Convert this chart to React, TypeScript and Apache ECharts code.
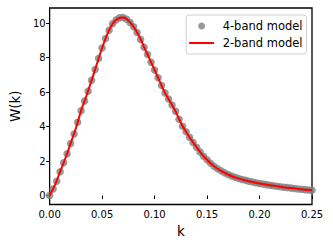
import React, { useEffect, useRef } from "react";
import * as echarts from "echarts";

// 4-band model: dots at k = i * 0.25/75
const dotStep = 0.25 / 75;
const dotW = [
  0, 0.38, 0.83, 1.38, 1.9, 2.42, 3.02, 3.57, 4.25, 4.92,
  5.48, 6.05, 6.68, 7.3, 7.95, 8.55, 9.1, 9.58, 9.95, 10.18,
  10.3, 10.32, 10.22, 10.03, 9.78, 9.45, 9.05, 8.6, 8.17, 7.73,
  7.28, 6.83, 6.38, 5.95, 5.6, 5.25, 4.88, 4.42, 4.02, 3.7,
  3.38, 3.08, 2.8, 2.53, 2.28, 2.07, 1.87, 1.7, 1.55, 1.43,
  1.32, 1.22, 1.13, 1.06, 0.99, 0.93, 0.88, 0.83, 0.78, 0.74,
  0.7, 0.67, 0.63, 0.6, 0.57, 0.54, 0.51, 0.48, 0.46, 0.43,
  0.41, 0.38, 0.36, 0.34, 0.32, 0.3,
];

// 2-band model: line at k = i * 0.005
const lineStep = 0.005;
const lineW = [
  0, 0.6, 1.38, 2.16, 3.02, 3.9, 4.92, 5.77, 6.68, 7.62,
  8.55, 9.35, 9.95, 10.25, 10.32, 10.14, 9.78, 9.27, 8.6, 7.95,
  7.28, 6.6, 5.95, 5.42, 4.88, 4.22, 3.7, 3.23, 2.8, 2.4,
  2.07, 1.78, 1.55, 1.37, 1.22, 1.09, 0.99, 0.9, 0.83, 0.76,
  0.7, 0.65, 0.6, 0.56, 0.51, 0.47, 0.43, 0.4, 0.36, 0.33, 0.3,
];

const yTicks = [0, 2, 4, 6, 8, 10];
const seriesNames = ["4-band model", "2-band model"];

const FONT = "DejaVu Sans";

export default function App() {
  const ref = useRef<HTMLDivElement>(null);
  useEffect(() => {
    if (!ref.current) return;
    const chart = echarts.init(ref.current, null, { renderer: "svg" });
    const dots = dotW.map((w, i) => [i * dotStep, w]);
    const line = lineW.map((w, i) => [i * lineStep, w]);
    chart.setOption({
      animation: false,
      textStyle: { fontFamily: FONT },
      grid: {
        left: 45,
        top: 8,
        right: 21,
        bottom: 40.5,
        show: true,
        borderColor: "#000",
        borderWidth: 1.3,
        backgroundColor: "transparent",
      },
      legend: {
        orient: "vertical",
        right: 26.5,
        top: 15,
        itemWidth: 25,
        itemHeight: 7,
        itemGap: 3,
        padding: [4, 4, 4, 3],
        borderColor: "#d0d0d0",
        borderWidth: 1,
        borderRadius: 3,
        backgroundColor: "rgba(255,255,255,0.8)",
        textStyle: {
          fontFamily: FONT,
          fontSize: 11.5,
          color: "#000",
          lineHeight: 14,
          padding: [0, 0, 0, 3.5],
        },
        data: [
          { name: seriesNames[0], icon: "circle", itemStyle: { color: "#808080" } },
          { name: seriesNames[1], icon: "path://M0 0H25V2H0Z", itemStyle: { color: "#ff0000" } },
        ],
      },
      xAxis: {
        type: "value",
        min: 0,
        max: 0.25,
        interval: 0.05,
        name: "k",
        nameLocation: "middle",
        nameGap: 17,
        nameTextStyle: { fontFamily: FONT, fontSize: 13.5, color: "#000" },
        axisLine: { show: false },
        axisTick: { show: true, length: 3.5, lineStyle: { color: "#000", width: 1 } },
        axisLabel: {
          color: "#000",
          fontFamily: FONT,
          fontSize: 10,
          margin: 4.5,
          formatter: (v: number) => v.toFixed(2),
        },
        splitLine: { show: false },
      },
      yAxis: {
        type: "value",
        min: -0.52,
        max: 10.87,
        name: "W(k)",
        nameLocation: "middle",
        nameGap: 22,
        nameTextStyle: { fontFamily: FONT, fontSize: 13.5, color: "#000" },
        axisLine: { show: false },
        axisTick: {
          show: true,
          length: 3.5,
          customValues: yTicks,
          lineStyle: { color: "#000", width: 1 },
        },
        axisLabel: {
          color: "#000",
          fontFamily: FONT,
          fontSize: 10,
          margin: 4,
          customValues: yTicks,
          formatter: (v: number) => String(Math.round(v)),
        },
        splitLine: { show: false },
      },
      series: [
        {
          name: seriesNames[0],
          type: "scatter",
          data: dots,
          symbolSize: 7.5,
          itemStyle: { color: "#808080" },
          z: 2,
        },
        {
          name: seriesNames[1],
          type: "line",
          data: line,
          smooth: true,
          showSymbol: false,
          symbol: "none",
          lineStyle: { color: "#ff0000", width: 2 },
          itemStyle: { color: "#ff0000" },
          z: 3,
        },
      ],
    });
    return () => chart.dispose();
  }, []);
  return (
    <div
      ref={ref}
      style={{ position: "fixed", left: 0, top: 0, width: 333, height: 245, background: "#fff" }}
    />
  );
}
